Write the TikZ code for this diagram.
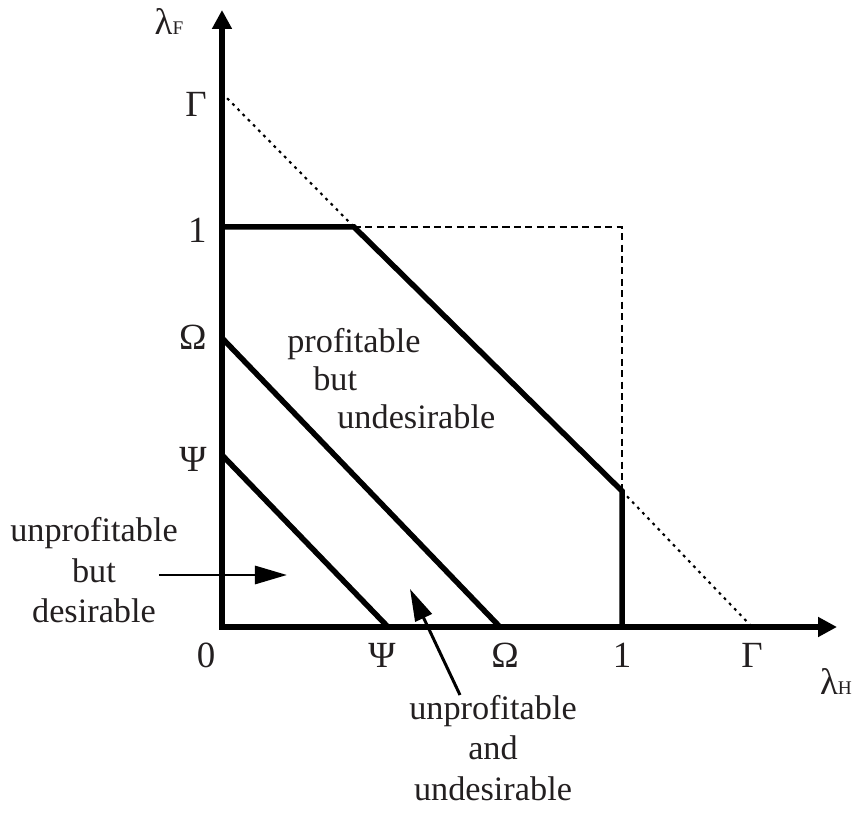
\documentclass[tikz,border=0pt]{standalone}
\usepackage{fontspec}
\setmainfont{Liberation Serif}
\usetikzlibrary{arrows.meta}
\definecolor{inkgray}{HTML}{231F20}

\begin{document}
\begin{tikzpicture}[x=8cm,y=8cm,
axis/.style={line width=0.13cm,{Triangle[length=0.38cm,width=0.38cm]}-{Triangle[length=0.38cm,width=0.38cm]}},
bound/.style={line width=0.11cm},
guide/.style={line width=1.2pt,dash pattern=on 1.6pt off 2.6pt},
boxline/.style={line width=1.1pt,dash pattern=on 4pt off 2.5pt},
pointer/.style={line width=1.7pt,-{Triangle[length=0.64cm,width=0.36cm]}},
ticklabel/.style={inner sep=0pt,text=inkgray,font=\fontsize{21}{21}\selectfont},
axislabel/.style={inner sep=0pt,text=inkgray,font=\fontsize{21}{21}\selectfont},
region/.style={inner sep=0pt,align=center,text=inkgray,font=\fontsize{19.5}{23}\selectfont}]
\useasboundingbox (-0.555,-0.485) rectangle (1.5875,1.5675);

\coordinate (O) at (0,0);
\coordinate (xtip) at (1.5375,0);
\coordinate (ytip) at (0,1.5425);
\draw[axis] (ytip) -- (O) -- (xtip);
\node[axislabel] (lamF) at (-0.1325,1.5125) {λ{\fontsize{11}{11}\selectfont F}};
\node[axislabel] (lamH) at (1.535,-0.1375) {λ{\fontsize{11}{11}\selectfont H}};

\foreach \n/\v/\t in {Gamma/1.3075/Γ,one/0.9925/1,Omega/0.725/Ω,Psi/0.42/Ψ}
{
    \node[ticklabel,anchor=east] (y\n) at (-0.0375,\v) {\t};
}
\foreach \n/\v/\t in {zero/-0.04/0,Psi/0.4/Ψ,Omega/0.7075/Ω,one/1.0/1,Gamma/1.325/Γ}
{
    \node[ticklabel,anchor=north] (x\n) at (\v,-0.04) {\t};
}

\foreach \n/\a/\b in {Psi/0.43/0.415,Omega/0.7225/0.695}
{
    \coordinate (f\n) at (0,\a);
    \coordinate (h\n) at (\b,0);
    \draw[bound] (f\n) -- (h\n);
}
\coordinate (fOne) at (0,1);
\coordinate (kinkA) at (0.33,1);
\coordinate (kinkB) at (1,0.34);
\coordinate (hOne) at (1,0);
\coordinate (corner) at (1,1);
\coordinate (fGamma) at (0,1.335);
\coordinate (hGamma) at (1.325,0);
\draw[bound] (fOne) -- (kinkA) -- (kinkB) -- (hOne);
\draw[guide] (fGamma) -- (kinkA);
\draw[guide] (kinkB) -- (hGamma);
\draw[boxline] (kinkA) -- (corner) -- (kinkB);

\node[region,anchor=north] (ubd) at (-0.32,0.274) {unprofitable\\but\\desirable};
\node[region,anchor=north west,align=left,font=\fontsize{19.5}{21.5}\selectfont] (pbu) at (0.1625,0.7475) {profitable\\\hspace*{0.52cm}but\\\hspace*{1.0cm}undesirable};
\node[region,anchor=north] (uau) at (0.6775,-0.17) {unprofitable\\and\\undesirable};
\coordinate (ubdTail) at (-0.1575,0.13);
\coordinate (ubdHead) at (0.1625,0.13);
\coordinate (uauTail) at (0.595,-0.17);
\coordinate (uauHead) at (0.47,0.095);
\draw[pointer] (ubdTail) -- (ubdHead);
\draw[pointer] (uauTail) -- (uauHead);
\end{tikzpicture}
\end{document}
